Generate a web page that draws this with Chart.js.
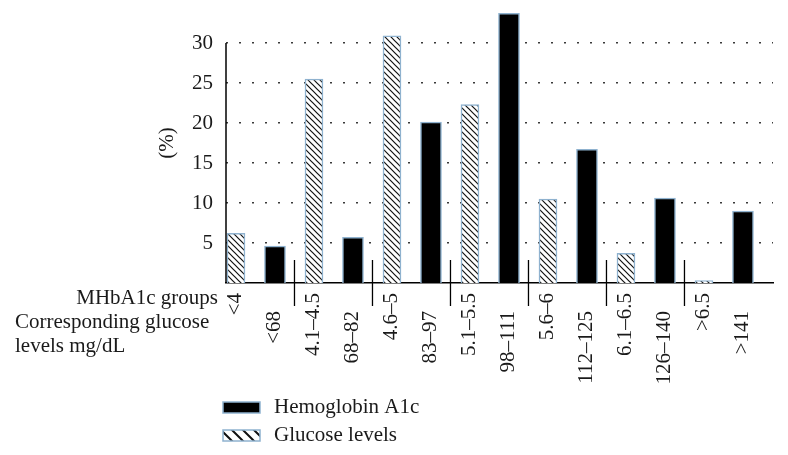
<!DOCTYPE html>
<html>
<head>
<meta charset="utf-8">
<script src="https://cdn.jsdelivr.net/npm/chart.js@4.4.0/dist/chart.umd.min.js"></script>
<style>
  html, body { margin: 0; padding: 0; background: #fff; }
  #wrap { width: 788px; height: 455px; }
</style>
</head>
<body>
<div id="wrap"><canvas id="chart" width="788" height="455"></canvas></div>
<script>
// tick labels under the bars (two rows)
const mhbGroups = ['<4', '4.1–4.5', '4.6–5', '5.1–5.5', '5.6–6', '6.1–6.5', '>6.5'];
const glucoseLevels = ['<68', '68–82', '83–97', '98–111', '112–125', '126–140', '>141'];

// series values (%)
const glucoseSeries = [6.2, 25.5, 30.9, 22.3, 10.5, 3.7, 0.3];
const hbSeries = [4.6, 5.7, 20.1, 33.7, 16.7, 10.6, 9.0];

const yTicks = [5, 10, 15, 20, 25, 30];
const rowTitles = ['MHbA1c groups', 'Corresponding glucose', 'levels mg/dL'];

const ink = '#1a1a1a';
const edge = '#8fb2cf';
const font = '"Liberation Serif", "Times New Roman", serif';

Chart.defaults.font.family = font;
Chart.defaults.font.size = 21;
Chart.defaults.color = ink;

// diagonal hatch for the glucose bars
function makeHatch(n, w) {
  const c = document.createElement('canvas');
  c.width = n; c.height = n;
  const g = c.getContext('2d');
  g.fillStyle = '#fff';
  g.fillRect(0, 0, n, n);
  g.strokeStyle = '#111';
  g.lineWidth = w;
  g.beginPath();
  g.moveTo(-1, -1); g.lineTo(n + 1, n + 1);
  g.moveTo(-1, n - 1); g.lineTo(1, n + 1);
  g.moveTo(n - 1, -1); g.lineTo(n + 1, 1);
  g.stroke();
  return document.createElement('canvas').getContext('2d').createPattern(c, 'repeat');
}
const hatch = makeHatch(6, 1.2);
const legendHatch = makeHatch(11, 2);

// axis lines, group separators, the two label rows and the legend
const overlay = {
  id: 'overlay',
  afterDraw(chart) {
    const { ctx, chartArea } = chart;
    const x = chart.scales.x, y = chart.scales.y;
    const base = y.getPixelForValue(0);
    ctx.save();

    ctx.strokeStyle = '#000';
    ctx.lineWidth = 1.5;
    ctx.beginPath();
    ctx.moveTo(chartArea.left, base);
    ctx.lineTo(chartArea.left, y.getPixelForValue(yTicks[yTicks.length - 1]));
    ctx.stroke();

    ctx.lineWidth = 1.3;
    for (let k = 0; k < mhbGroups.length - 1; k++) {
      const px = x.getPixelForValue(2 * k + 1.5);
      ctx.beginPath();
      ctx.moveTo(px, base - 23);
      ctx.lineTo(px, base + 23);
      ctx.stroke();
    }

    ctx.fillStyle = ink;
    ctx.font = '21px ' + font;
    ctx.textBaseline = 'middle';
    ctx.textAlign = 'right';
    const rows = [[mhbGroups, 0, 293], [glucoseLevels, 1, 311]];
    rows.forEach(([labels, shift, top]) => {
      labels.forEach((lab, k) => {
        ctx.save();
        ctx.translate(x.getPixelForValue(2 * k + shift), top);
        ctx.rotate(-Math.PI / 2);
        ctx.fillText(lab, 0, 0);
        ctx.restore();
      });
    });

    ctx.textBaseline = 'alphabetic';
    ctx.textAlign = 'right';
    ctx.fillText(rowTitles[0], 218, 304);
    ctx.textAlign = 'left';
    ctx.fillText(rowTitles[1], 15, 328);
    ctx.fillText(rowTitles[2], 15, 352);

    // legend
    ctx.textBaseline = 'middle';
    chart.data.datasets.forEach((ds, i) => {
      const ly = 402 + i * 28;
      ctx.fillStyle = ds.backgroundColor === hatch ? legendHatch : ds.backgroundColor;
      ctx.fillRect(223, ly, 37, 11);
      ctx.strokeStyle = edge;
      ctx.lineWidth = 1.5;
      ctx.strokeRect(223, ly, 37, 11);
      ctx.fillStyle = ink;
      ctx.fillText(ds.label, 274, ly + 5);
    });

    ctx.restore();
  }
};

new Chart(document.getElementById('chart'), {
  type: 'bar',
  data: {
    datasets: [
      {
        label: 'Hemoglobin A1c',
        data: hbSeries.map((v, k) => ({ x: 2 * k + 1, y: v })),
        backgroundColor: '#000',
        borderColor: edge,
        borderWidth: 1.5,
        barThickness: 21,
        grouped: false
      },
      {
        label: 'Glucose levels',
        data: glucoseSeries.map((v, k) => ({ x: 2 * k, y: v })),
        backgroundColor: hatch,
        borderColor: edge,
        borderWidth: 1.5,
        barThickness: 18,
        grouped: false
      }
    ]
  },
  options: {
    responsive: false,
    animation: false,
    layout: { padding: { left: 0, right: 15, top: 3, bottom: 172 } },
    plugins: {
      legend: { display: false },
      tooltip: { enabled: false }
    },
    scales: {
      x: {
        type: 'linear',
        offset: false,
        min: -0.256,
        max: 13.77,
        ticks: { display: false },
        grid: { display: false, drawTicks: false },
        border: { display: true, color: '#000', width: 1.5 },
        afterFit: s => { s.height = 0; }
      },
      y: {
        min: 0,
        max: 35,
        ticks: {
          stepSize: 5,
          padding: 13,
          callback: v => yTicks.includes(v) ? String(v) : null
        },
        grid: { color: '#3a3a3a', lineWidth: 1.5, drawTicks: false },
        border: { display: false, dash: [2, 11] },
        title: { display: true, text: '(%)', padding: { top: 155, bottom: 0 } },
        afterFit: s => { s.width = 226; s.paddingTop = 0; s.paddingBottom = 0; }
      }
    }
  },
  plugins: [overlay]
});
</script>
</body>
</html>
